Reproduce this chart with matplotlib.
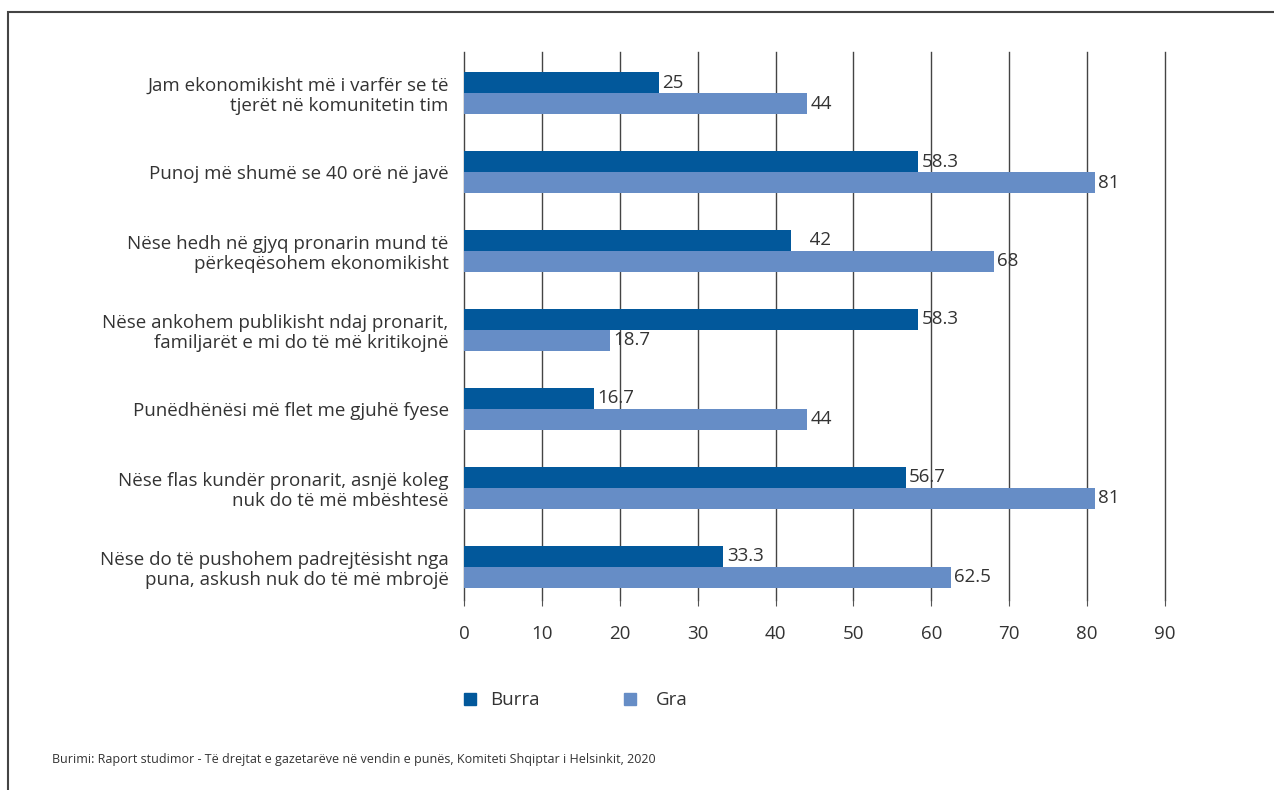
import matplotlib.pyplot as plt
import numpy as np
from matplotlib.patches import Rectangle

plt.rcParams['font.family'] = ['Open Sans', 'DejaVu Sans']

# data
categories = [
    'Jam ekonomikisht më i varfër se të\ntjerët në komunitetin tim',
    'Punoj më shumë se 40 orë në javë',
    'Nëse hedh në gjyq pronarin mund të\npërkeqësohem ekonomikisht',
    'Nëse ankohem publikisht ndaj pronarit,\nfamiljarët e mi do të më kritikojnë',
    'Punëdhënësi më flet me gjuhë fyese',
    'Nëse flas kundër pronarit, asnjë koleg\nnuk do të më mbështesë',
    'Nëse do të pushohem padrejtësisht nga\npuna, askush nuk do të më mbrojë',
]
burra = [25, 58.3, 42, 58.3, 16.7, 56.7, 33.3]
gra = [44, 81, 68, 18.7, 44, 81, 62.5]
burra_labels = ['25', '58.3', '   42', '58.3', '16.7', '56.7', '33.3']
gra_labels = ['44', '81', '68', '18.7', '44', '81', '62.5']
series = ['Burra', 'Gra']
xticks = list(range(0, 100, 10))

c_burra = '#02589b'
c_gra = '#668dc6'
txt = '#333333'
fs = 13.5

fig = plt.figure(figsize=(12.74, 7.9), dpi=100)
# frame around the figure (only left and top edges visible)
fig.patches.append(Rectangle((8 / 1274, -0.1), 1.2, (790 - 12) / 790 + 0.1,
                             transform=fig.transFigure, fill=False,
                             edgecolor='#444444', linewidth=1.5))

ax = fig.add_axes([464 / 1274, 1 - 600 / 790, (1165 - 464) / 1274, 548 / 790])
y = np.arange(len(categories))
h = 0.266
ax.barh(y - h / 2, burra, height=h, color=c_burra, zorder=3)
ax.barh(y + h / 2, gra, height=h, color=c_gra, zorder=3)

for i in range(len(categories)):
    ax.text(burra[i] + 0.45, y[i] - h / 2, burra_labels[i], va='center', ha='left',
            fontsize=fs, color=txt, zorder=4)
    ax.text(gra[i] + 0.45, y[i] + h / 2, gra_labels[i], va='center', ha='left',
            fontsize=fs, color=txt, zorder=4)

ax.set_xlim(0, 90)
ax.set_ylim(6.42, -0.52)
ax.set_xticks(xticks)
ax.set_yticks(y)
ax.set_yticklabels(categories, fontsize=fs, color=txt, linespacing=1.15)
ax.tick_params(axis='y', length=0, pad=11)
ax.tick_params(axis='x', length=4, color='#555555', labelsize=fs, labelcolor=txt, pad=14)
ax.grid(axis='x', color='#444444', linewidth=1, zorder=0)
for gl in ax.get_xgridlines():
    gl.set_clip_on(False)
for s in ax.spines.values():
    s.set_visible(False)

# legend
for k, (name, col) in enumerate(zip(series, [c_burra, c_gra])):
    x0 = [464, 624][k]
    fig.patches.append(Rectangle((x0 / 1274, 1 - 705 / 790), 12 / 1274, 12 / 790,
                                 transform=fig.transFigure, color=col))
    fig.text((x0 + [26, 32][k]) / 1274, 1 - 700 / 790, name, fontsize=fs, color=txt, va='center')

fig.text(52 / 1274, 1 - 760 / 790,
         'Burimi: Raport studimor - Të drejtat e gazetarëve në vendin e punës, Komiteti Shqiptar i Helsinkit, 2020',
         fontsize=9, color=txt, va='center')

fig.savefig('out.png', dpi=100)
